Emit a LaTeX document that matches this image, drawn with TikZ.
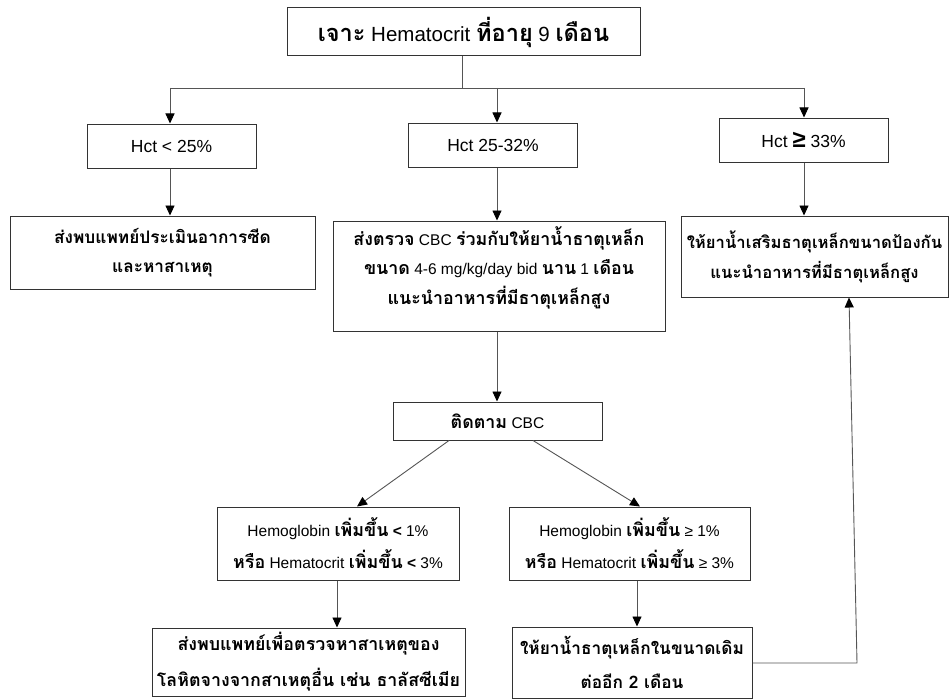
\documentclass[tikz,border=0pt]{standalone}
\usepackage{fontspec}
\setmainfont{Liberation Sans}
\newfontfamily\thaifont[Script=Thai,Scale=1.15]{Loma}
\usetikzlibrary{arrows.meta,calc}
\newcommand\T[1]{{\thaifont\bfseries #1}}
\definecolor{boxc}{HTML}{333333}
\definecolor{linec}{HTML}{555555}
\tikzset{
  box/.style={draw=boxc, line width=1pt, inner sep=0pt, align=center, text=black},
  conn/.style={draw=linec, line width=0.9pt},
  arr/.style={conn, -{Triangle[length=10pt,width=9pt,fill=black,color=black]}},
}
\begin{document}
\begin{tikzpicture}[x=1pt,y=-1pt]
\useasboundingbox (0,0) rectangle (949,698);
% boxes
\node[box, minimum width=353pt, minimum height=48pt, font=\fontsize{20.5}{24}\selectfont] (top) at (463.5,32) {\T{เจาะ} Hematocrit \T{ที่อายุ} 9 \T{เดือน}};
\node[box, minimum width=169pt, minimum height=44pt, font=\fontsize{17.5}{20}\selectfont] (h1) at (171.5,146) {Hct < 25\%};
\node[box, minimum width=169pt, minimum height=44pt, font=\fontsize{17.5}{20}\selectfont] (h2) at (493,145) {Hct 25-32\%};
\node[box, minimum width=169pt, minimum height=44pt, font=\fontsize{17.5}{20}\selectfont] (h3) at (803.5,140) {Hct {\bfseries\fontsize{24}{24}\selectfont ≥} 33\%};
\node[box, minimum width=305pt, minimum height=73pt, font=\fontsize{15}{29.5}\selectfont] (l2) at (162.5,252.5) {\T{ส่งพบแพทย์ประเมินอาการซีด}\\\T{และหาสาเหตุ}};
\node[box, minimum width=332pt, minimum height=110pt, font=\fontsize{15.5}{29.5}\selectfont] (m2) at (499,276) {\T{ส่งตรวจ} CBC \T{ร่วมกับให้ยาน้ำธาตุเหล็ก}\\\T{ขนาด} 4-6 mg/kg/day bid \T{นาน} 1 \T{เดือน}\\\T{แนะนำอาหารที่มีธาตุเหล็กสูง}\\[-8pt]\mbox{}};
\node[box, minimum width=267pt, minimum height=81pt, font=\fontsize{14.5}{30}\selectfont] (r2) at (814.5,256.5) {\T{ให้ยาน้ำเสริมธาตุเหล็กขนาดป้องกัน}\\\T{แนะนำอาหารที่มีธาตุเหล็กสูง}};
\node[box, minimum width=209pt, minimum height=38pt, font=\fontsize{15.5}{20}\selectfont] (cbc) at (497.5,421) {\T{ติดตาม} CBC};
\node[box, minimum width=242pt, minimum height=73pt, font=\fontsize{15.5}{32}\selectfont] (ll) at (338,543.5) {Hemoglobin \T{เพิ่มขึ้น} {\bfseries <} 1\%\\\T{หรือ} Hematocrit \T{เพิ่มขึ้น} {\bfseries <} 3\%};
\node[box, minimum width=241pt, minimum height=73pt, font=\fontsize{15.5}{32}\selectfont] (rl) at (629.5,543.5) {Hemoglobin \T{เพิ่มขึ้น} ≥ 1\%\\\T{หรือ} Hematocrit \T{เพิ่มขึ้น} ≥ 3\%};
\node[box, minimum width=313pt, minimum height=68pt, font=\fontsize{15.5}{36}\selectfont] (lb) at (308.5,662) {\T{ส่งพบแพทย์เพื่อตรวจหาสาเหตุของ}\\\T{โลหิตจางจากสาเหตุอื่น เช่น ธาลัสซีเมีย}};
\node[box, minimum width=240pt, minimum height=71pt, font=\fontsize{15}{34}\selectfont] (rb) at (632,662.5) {\T{ให้ยาน้ำธาตุเหล็กในขนาดเดิม}\\\T{ต่ออีก 2 เดือน}};
% bus
\coordinate (bus) at (462,88);
\coordinate (b1) at (170,88);
\coordinate (b2) at (497,88);
\coordinate (b3) at (804,88);
\draw[conn] (top.south -| bus) -- (bus);
\draw[conn] (b1) -- (b3);
\draw[arr] (b1) -- (b1 |- h1.north);
\draw[arr] (b2) -- (b2 |- h2.north);
\draw[arr] (b3) -- (b3 |- h3.north);
\draw[arr] (h1.south -| b1) -- (b1 |- l2.north);
\draw[arr] (h2.south -| b2) -- (b2 |- m2.north);
\draw[arr] (h3.south -| b3) -- (b3 |- r2.north);
\draw[arr] (m2.south -| b2) -- (b2 |- cbc.north);
\draw[arr] ($(cbc.south)+(-48.5,0)$) -- ($(ll.north)+(19,0)$);
\draw[arr] ($(cbc.south)+(35.5,0)$) -- ($(rl.north)+(10.5,0)$);
\coordinate (c1) at (337,600);
\coordinate (c2) at (637,600);
\draw[arr] (ll.south -| c1) -- (c1 |- lb.north);
\draw[arr] (rl.south -| c2) -- (c2 |- rb.north);
\coordinate (fb) at (857,663);
\coordinate (fe) at (849,0);
\draw[arr] (rb.east |- fb) -- (fb) -- (fe |- r2.south);
\end{tikzpicture}
\end{document}
